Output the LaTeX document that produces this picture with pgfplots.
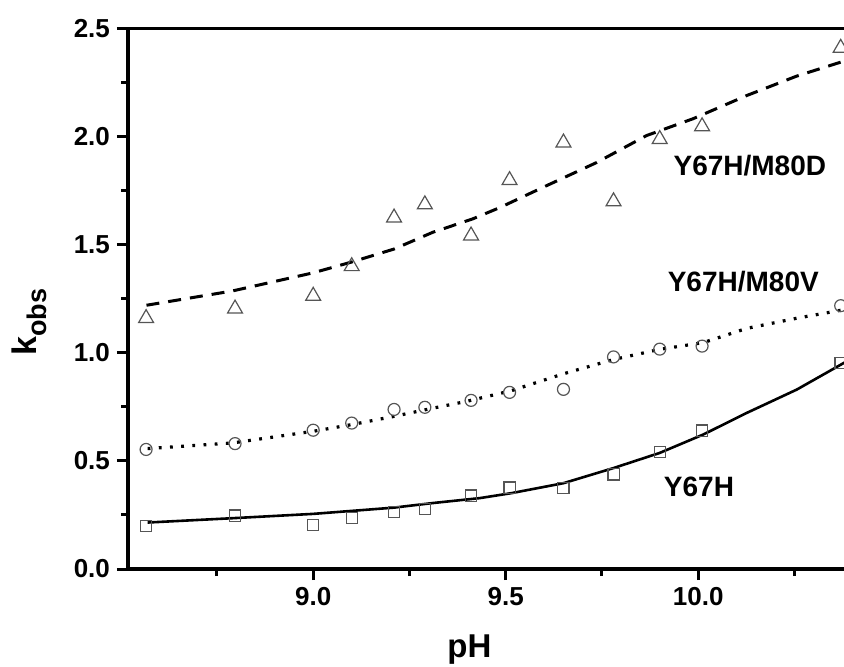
\documentclass[border=0pt]{standalone}
\usepackage{pgfplots}
\pgfplotsset{compat=1.18}
\usepackage{fontspec}
\setmainfont{Liberation Sans}
\definecolor{markgray}{HTML}{555555}
\begin{document}
\begin{tikzpicture}
\begin{axis}[
  at={(0,0)}, anchor=south west,
  scale only axis, width=362.5pt, height=270.25pt,
  xmin=8.519, xmax=10.402, ymin=0, ymax=2.5,
  axis line style={line width=1.75pt},
  tick style={line width=1.5pt, black},
  major tick length=5.5pt, minor tick length=3.5pt,
  tick align=outside,
  tick pos=left,
  xtick={9,9.5,10}, xticklabels={9.0,9.5,10.0},
  minor xtick={8.75,9.25,9.75,10.25},
  ytick={0,0.5,1,1.5,2,2.5}, yticklabels={0.0,0.5,1.0,1.5,2.0,2.5},
  minor ytick={0.25,0.75,1.25,1.75,2.25},
  ticklabel style={font=\fontsize{13}{15}\selectfont\bfseries},
  xlabel={pH},
  xlabel style={at={(rel axis cs:0.471,0)}, anchor=base, yshift=-44pt, font=\fontsize{16.5}{18}\selectfont\bfseries},
]
\addplot[black, line width=1.5pt, dash pattern=on 6.5pt off 4.5pt] coordinates {
(8.567,1.22) (8.79,1.286) (9.0,1.37) (9.10,1.42) (9.21,1.48) (9.31,1.557) (9.415,1.62) (9.485,1.672)
(9.606,1.773) (9.736,1.88) (9.866,2.005) (9.987,2.083) (10.126,2.19) (10.256,2.28) (10.38,2.35)};
\addplot[black, line width=1.6pt, dash pattern=on 1.4pt off 4.2pt] coordinates {
(8.57,0.557) (8.79,0.583) (9.0,0.637) (9.10,0.668) (9.21,0.706) (9.30,0.74) (9.40,0.776) (9.515,0.825)
(9.65,0.903) (9.78,0.969) (9.90,1.016) (10.013,1.047) (10.126,1.113) (10.256,1.16) (10.38,1.20)};
\addplot[black, line width=1.3pt] coordinates {
(8.57,0.215) (8.79,0.235) (9.0,0.255) (9.21,0.284) (9.31,0.305) (9.433,0.328) (9.515,0.351) (9.65,0.397)
(9.78,0.467) (9.90,0.537) (10.013,0.622) (10.126,0.722) (10.256,0.83) (10.38,0.955)};
\addplot[only marks, mark=triangle, mark size=4.3pt, mark options={markgray, line width=0.6pt}] coordinates {
(8.566,1.16) (8.797,1.204) (9.0,1.263) (9.10,1.40) (9.21,1.625) (9.29,1.686) (9.41,1.542) (9.51,1.798)
(9.65,1.972) (9.78,1.70) (9.90,1.988) (10.01,2.047) (10.37,2.41)};
\addplot[only marks, mark=o, mark size=3pt, mark options={markgray, line width=0.6pt}] coordinates {
(8.566,0.553) (8.797,0.58) (9.0,0.642) (9.10,0.675) (9.21,0.738) (9.29,0.748) (9.41,0.78) (9.51,0.817)
(9.65,0.831) (9.78,0.981) (9.90,1.017) (10.01,1.031) (10.37,1.218)};
\addplot[only marks, mark=square, mark size=2.8pt, mark options={markgray, line width=0.6pt}] coordinates {
(8.566,0.20) (8.797,0.247) (9.0,0.204) (9.10,0.235) (9.21,0.265) (9.29,0.277) (9.41,0.34) (9.51,0.377)
(9.65,0.375) (9.78,0.438) (9.90,0.541) (10.01,0.64) (10.37,0.952)};
\node[font=\fontsize{14}{16}\selectfont\bfseries] at (axis cs:10.134,1.866) {Y67H/M80D};
\node[font=\fontsize{14}{16}\selectfont\bfseries] at (axis cs:10.117,1.329) {Y67H/M80V};
\node[font=\fontsize{14}{16}\selectfont\bfseries] at (axis cs:10.002,0.378) {Y67H};
\end{axis}
\node[rotate=90, anchor=base, inner sep=0pt, font=\fontsize{17}{20}\selectfont\bfseries]
  at (-45.5pt,123.5pt) {k\raisebox{-5pt}{\fontsize{13.5}{15}\selectfont obs}};
\pgfresetboundingbox
\path[use as bounding box] (-64pt,-48.5pt) rectangle (358pt,284.5pt);
\end{tikzpicture}
\end{document}
